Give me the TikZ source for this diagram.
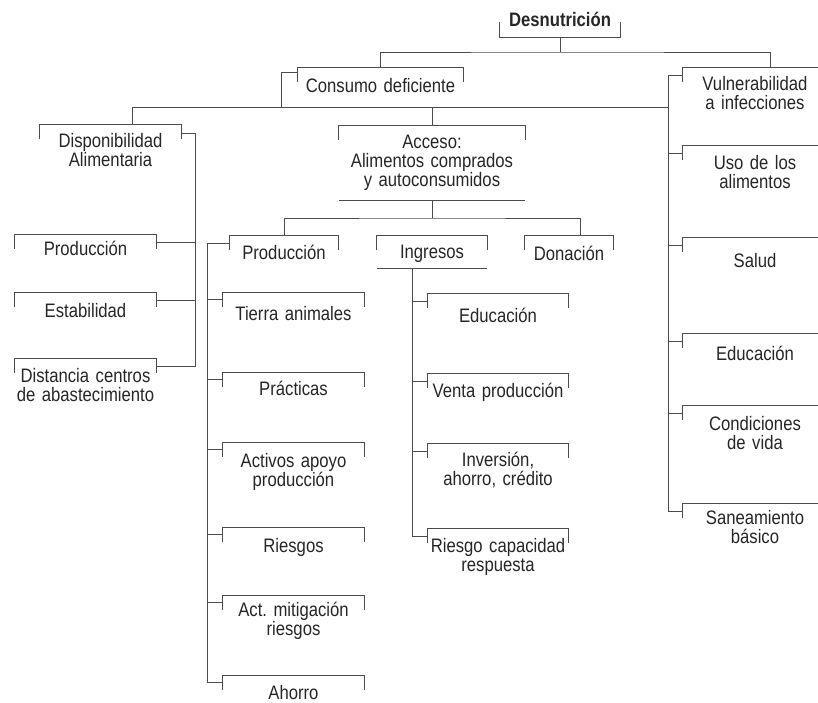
\documentclass[tikz,border=0pt]{standalone}
\usepackage{fontspec}
\setmainfont{Liberation Sans}[FakeStretch=0.855]
\usepackage{tikz}
\frenchspacing

\begin{document}
\begin{tikzpicture}[x=1pt,y=-1pt,line width=0.7pt,color=black!70,
    every node/.style={font=\fontsize{19.5}{19}\selectfont,text=black!85,inner xsep=0pt,inner ysep=10.5pt},
    box/.style={anchor=north,text width=#1,align=center},
    box/.default=141pt]
  \clip (0,0) rectangle (818,702);

  % Nodes
  \node[anchor=south,text width=120pt,align=center,text depth=0pt] (desn) at (560,37) {\bfseries Desnutrici\'on};
  \node[box=165pt,inner ysep=11pt] (cons) at (380.5,67) {Consumo deficiente};
  \node[box=144pt,inner ysep=9pt] (vuln) at (755,67) {Vulnerabilidad\\a infecciones};

  % left group
  \node[box,inner ysep=9pt] (disp) at (110.5,124) {Disponibilidad\\Alimentaria};
  \node[box,inner ysep=7pt] (prodA) at (85.5,234) {Producci\'on};
  \node[box,inner ysep=11pt] (estab) at (85.5,292) {Estabilidad};
  \node[box,inner ysep=10pt] (dist) at (85.5,358) {Distancia centros\\de abastecimiento};

  % middle group
  \node[box=186pt,inner ysep=10pt] (acc) at (432,125) {Acceso:\\Alimentos comprados\\y autoconsumidos};
  \node[box=108pt,inner ysep=10pt] (prodB) at (284,235) {Producci\'on};
  \node[box=110pt,inner ysep=10pt] (ingr) at (432,235) {Ingresos};
  \node[box=88pt,inner ysep=11pt] (don) at (569,235) {Donaci\'on};
  \node[box,inner ysep=14pt] (tierra) at (293.5,292) {Tierra animales};
  \node[box,inner ysep=9pt] (pract) at (293.5,372) {Pr\'acticas};
  \node[box,inner ysep=11pt] (activ) at (293.5,442) {Activos apoyo\\producci\'on};
  \node[box,inner ysep=11pt] (riesg) at (293.5,527) {Riesgos};
  \node[box,inner ysep=7pt] (mitig) at (293.5,595) {Act. mitigaci\'on\\riesgos};
  \node[box,inner ysep=10pt] (ahorro) at (293.5,675) {Ahorro};
  \node[box=140pt,inner ysep=15pt] (educA) at (498,293) {Educaci\'on};
  \node[box=140pt,inner ysep=10pt] (venta) at (498,373) {Venta producci\'on};
  \node[box=140pt,inner ysep=9pt] (inver) at (498,443) {Inversi\'on,\\ahorro, cr\'edito};
  \node[box=140pt,inner ysep=10pt] (rcap) at (498,528) {Riesgo capacidad\\respuesta};

  % right group
  \node[box=144pt,inner ysep=10pt] (uso) at (755,145) {Uso de los\\alimentos};
  \node[box=144pt,inner ysep=16pt] (salud) at (755,237) {Salud};
  \node[box=144pt,inner ysep=13pt] (educB) at (755,333) {Educaci\'on};
  \node[box=144pt,inner ysep=11pt] (cond) at (755,405) {Condiciones\\de vida};
  \node[box=144pt,inner ysep=7pt] (san) at (755,503) {Saneamiento\\b\'asico};

  % Brackets
  \draw ([yshift=15pt]desn.south west) -- (desn.south west) -- (desn.south east) -- ([yshift=15pt]desn.south east);
  \foreach \n in {cons,vuln,disp,prodA,estab,dist,acc,prodB,ingr,don,tierra,pract,activ,riesg,mitig,ahorro,
                  educA,venta,inver,rcap,uso,salud,educB,cond,san}
    \draw ([yshift=-15pt]\n.north west) -- (\n.north west) -- (\n.north east) -- ([yshift=-15pt]\n.north east);
  \draw ([yshift=-75pt]acc.north west) -- ([yshift=-75pt]acc.north east);
  \draw ([yshift=-33pt]ingr.north west) -- ([yshift=-33pt]ingr.north east);

  % Connectors
  \draw (desn.south) -- ++(0,15) coordinate (tj);
  \draw (cons.north) |- (tj) -| ([xshift=15pt]vuln.north);
  \draw ([yshift=-8pt]vuln.north west) -- ++(-14,0) coordinate (rb);
  \draw ([xshift=21.5pt]disp.north) -- ++(0,-17) coordinate (bl) -- (bl -| rb);
  \draw ([yshift=-5pt]cons.north west) -- ++(-16,0) |- (bl);
  \draw (acc.north) -- (acc.north |- bl);
  \foreach \n in {uso,salud,educB,cond,san}
    \draw ([yshift=-8pt]\n.north west) -| (rb);

  \draw ([yshift=-9pt]disp.north east) -- ++(14,0) coordinate (lb);
  \foreach \n in {prodA,estab,dist}
    \draw ([yshift=-8pt]\n.north east) -| (lb);

  \draw ([yshift=-75pt]acc.north) -- ++(0,18) coordinate (aj);
  \draw (prodB.north) |- (aj) -| ([xshift=11pt]don.north);
  \draw ([yshift=-8pt]prodB.north west) -- ++(-22,0) coordinate (mb);
  \foreach \n in {tierra,pract,activ,riesg,mitig,ahorro}
    \draw ([yshift=-7pt]\n.north west) -| (mb);
  \coordinate (ib) at ([xshift=36pt,yshift=-33pt]ingr.north west);
  \foreach \n in {educA,venta,inver,rcap}
    \draw ([yshift=-8pt]\n.north west) -| (ib);
\end{tikzpicture}
\end{document}
